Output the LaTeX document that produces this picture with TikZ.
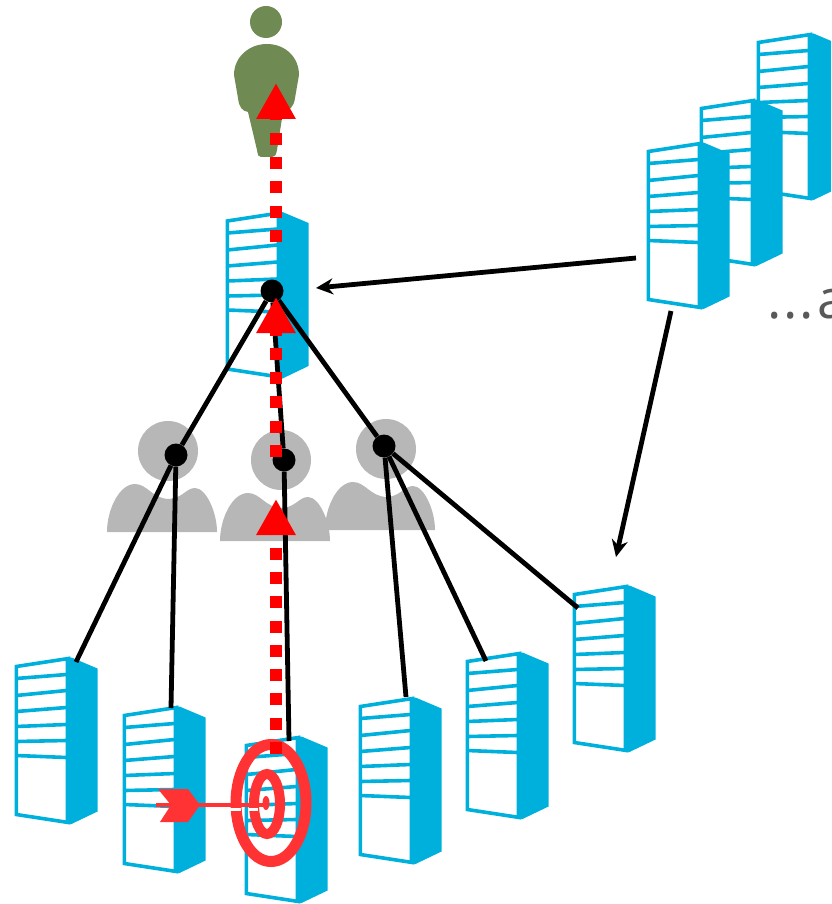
\documentclass[tikz,border=0pt]{standalone}
\usepackage{fontspec}
\setsansfont{Open Sans}
\usetikzlibrary{arrows.meta}
\definecolor{serverblue}{HTML}{00B0DC}
\definecolor{personolive}{HTML}{6F8A52}
\definecolor{persongrey}{HTML}{B7B7B7}
\definecolor{targetred}{HTML}{FF3333}
\tikzset{
	server/.pic = {
		\draw[serverblue, line width = 3.6, fill = white] (1.8, 9) -- (54, 1) -- (54, 165) -- (1.8, 157) -- cycle;
		\fill[serverblue] (51, 1) -- (57, 0) -- (83, 11) -- (83, 154) -- (57, 166.5) -- (51, 165) -- cycle;
		\foreach \yl/\yr in {21/17, 38/33, 54/50, 69/67, 84/83, 98/100}
			\draw[serverblue, line width = 3.6] (1.8, \yl) -- (52, \yr);
	},
	watcher/.pic = {
		\fill[persongrey] (0, 0) circle (30);
		\fill[persongrey] (-61, 81) .. controls +(0, -22) and +(-16, 0) ..
			(-33, 33) .. controls +(12, 0) and +(-16, -1) ..
			(0, 48) .. controls +(14, 0) and +(-9, 0) ..
			(27, 37) .. controls +(11, 0) and +(0, -20) ..
			(49, 81) -- cycle;
	},
	blackdot/.style = {circle, fill = black, minimum size = 23, inner sep = 0},
	link/.style = {line width = 4.8, black},
	feed/.style = {line width = 4.8, black, -{Stealth[length = 17, width = 16]}},
	attack/.style = {line width = 12.5, red, dash pattern = on 12 off 12.3, -{Triangle[length = 36, width = 37]}}
}

\begin{document}
\begin{tikzpicture}[x = 1pt, y = -1pt]
\clip (0, 0) rectangle (831, 904);
\useasboundingbox (0, 0) rectangle (831, 904);
% servers
\path (756.5, 33.5) pic {server};
\path (699.5, 99.5) pic {server};
\path (646.5, 142.5) pic {server};
\path (225.5, 212) pic {server};
\path (14.5, 657.5) pic {server};
\path (122.5, 706.5) pic {server};
\path (244.5, 736.5) pic {server};
\path (358.5, 697.5) pic {server};
\path (465.5, 652.5) pic {server};
\path (572.5, 585.5) pic {server};
% people
\fill[personolive] (266, 22) circle (16);
\fill[personolive] (234, 75) .. controls +(0, -18) and +(-18, 0) ..
	(267, 44) .. controls +(18, 0) and +(0, -18) ..
	(299, 75) -- (295, 98) .. controls +(-1, 9) and +(6, -1) ..
	(283, 112) -- (277, 150) .. controls +(-1, 5) and +(3, 0) ..
	(272, 157) -- (261, 157) .. controls +(-3, 0) and +(1, 5) ..
	(257, 150) -- (248, 112) .. controls +(-6, -1) and +(1, 9) ..
	(238, 98) -- cycle;
\path (168, 451) pic {watcher};
\path (281, 460) pic {watcher};
\path (386, 449) pic {watcher};
% target
\draw[targetred, line width = 11] (271, 803) ellipse (35 and 58.5);
\draw[targetred, line width = 10] (267, 804) ellipse (13 and 30);
\fill[targetred] (266, 803) ellipse (3.5 and 7);
\fill[white] (229, 808) rectangle (241, 811);
\fill[white] (249, 808) rectangle (258, 811);
\fill[targetred] (158, 789) -- (188, 789) -- (200, 805) -- (188, 822) -- (160, 822) -- (171, 805) -- cycle;
\draw[targetred, line width = 4.8] (156, 805) -- (266, 805);
% tree
\node[blackdot] (root) at (272, 291) {};
\node[blackdot] (lead1) at (176, 455) {};
\node[blackdot] (lead2) at (284, 460) {};
\node[blackdot] (lead3) at (384, 446) {};
\coordinate (leaf1) at (76, 662);
\coordinate (leaf2) at (171, 708);
\coordinate (leaf3) at (289, 741);
\coordinate (leaf4) at (406, 697);
\coordinate (leaf5) at (486, 661);
\coordinate (leaf6) at (578, 608);
\draw[link] (root) -- (lead1);
\draw[link] (root) -- (lead2);
\draw[link] (root) -- (lead3);
\draw[link] (lead1) -- (leaf1);
\draw[link] (lead1) -- (leaf2);
\draw[link] (lead2) -- (leaf3);
\draw[link] (lead3) -- (leaf4);
\draw[link] (lead3) -- (leaf5);
\draw[link] (lead3) -- (leaf6);
% others
\coordinate (stackA) at (636, 258);
\coordinate (stackB) at (671, 311);
\coordinate (rootIn) at (316, 288);
\coordinate (leafIn) at (616, 557);
\draw[feed] (stackA) -- (rootIn);
\draw[feed] (stackB) -- (leafIn);
\node[text = black!65, font = \sffamily\fontsize{54}{54}\selectfont, anchor = base west, inner sep = 0] (more) at (767, 318) {.\kern2pt.\kern2pt.\kern3pt a};
% attack path
\coordinate (hit0) at (276, 754);
\coordinate (hit1) at (276, 499);
\coordinate (hit2) at (276, 457);
\coordinate (hit3) at (276, 297);
\coordinate (hit4) at (276, 242);
\coordinate (hit5) at (276, 83);
\draw[attack] (hit0) -- (hit1);
\draw[attack] (hit2) -- (hit3);
\draw[attack] (hit4) -- (hit5);
\end{tikzpicture}
\end{document}
